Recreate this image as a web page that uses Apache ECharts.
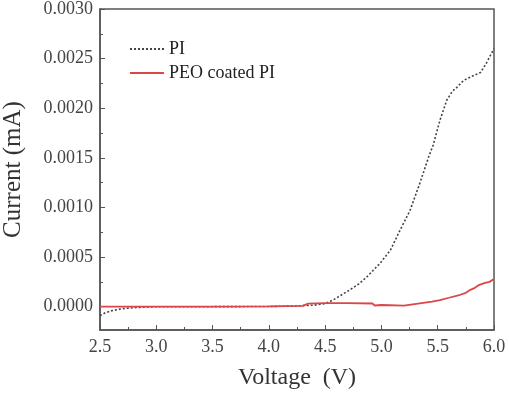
<!DOCTYPE html>
<html>
<head>
<meta charset="utf-8">
<script src="https://cdn.jsdelivr.net/npm/echarts@6/dist/echarts.min.js"></script>
<style>
    html, body { margin: 0; padding: 0; background: #fff; }
    #chart { width: 509px; height: 396px; }
</style>
</head>
<body>
<div id="chart"></div>
<script>
// PI 曲线 (电压 V, 电流 mA)
var piVoltage = [2.5, 2.55, 2.6, 2.7, 2.8, 2.9, 3.0, 3.5, 4.0, 4.2, 4.4, 4.5, 4.57, 4.72, 4.8, 4.87, 4.93, 4.99, 5.08, 5.165, 5.254, 5.34, 5.42, 5.46, 5.52, 5.58, 5.63, 5.67, 5.73, 5.8, 5.88, 5.93, 6.0];
var piCurrent = [-0.00009, -0.00006, -0.000042, -0.00002, -0.00001, -0.000005, 0, 0, 0.000002, 0.000006, 0.000015, 0.00003, 0.000067, 0.00017, 0.00023, 0.0003, 0.00037, 0.00044, 0.00057, 0.00077, 0.00097, 0.00124, 0.00151, 0.00163, 0.00188, 0.00208, 0.00217, 0.00221, 0.00228, 0.00232, 0.00236, 0.00245, 0.0026];

// PEO coated PI 曲线
var peoVoltage = [2.5, 3.0, 3.5, 4.0, 4.3, 4.35, 4.5, 4.7, 4.92, 4.94, 5.0, 5.2, 5.34, 5.45, 5.52, 5.6, 5.7, 5.75, 5.79, 5.83, 5.87, 5.92, 5.96, 6.0];
var peoCurrent = [0, 0, 0, 0.000003, 0.000008, 0.00003, 0.000035, 0.000035, 0.000032, 0.000012, 0.000017, 0.00001, 0.000034, 0.000052, 0.000067, 0.00009, 0.00012, 0.00014, 0.00017, 0.00019, 0.00022, 0.00024, 0.00025, 0.00028];

// 纵轴刻度
var yTicks = [0, 0.0005, 0.001, 0.0015, 0.002, 0.0025, 0.003];
var yMinorTicks = [0.00025, 0.00075, 0.00125, 0.00175, 0.00225, 0.00275];

function toPairs(xs, ys) {
    return xs.map(function (x, i) { return [x, ys[i]]; });
}

var font = "Liberation Serif";
var axisColor = "#555";
var yMin = -0.000235, yMax = 0.003;

var myChart = echarts.init(document.getElementById("chart"));
var option = {
    animation: false,
    textStyle: { fontFamily: font },
    grid: {
        left: 100, right: 15, top: 9, bottom: 66,
        outerBoundsMode: "none",
        show: true, borderColor: axisColor, borderWidth: 1.5
    },
    legend: {
        left: 124, top: 35, orient: "vertical",
        itemWidth: 34, itemHeight: 14, itemGap: 6,
        itemStyle: { opacity: 0 },
        textStyle: { fontFamily: font, fontSize: 18, color: "#222" },
        data: ["PI", "PEO coated PI"]
    },
    xAxis: {
        type: "value", min: 2.5, max: 6, interval: 0.5,
        name: "Voltage  (V)", nameLocation: "middle", nameGap: 36,
        nameTextStyle: { fontFamily: font, fontSize: 24, color: "#333" },
        axisLine: { onZero: false, lineStyle: { color: axisColor, width: 1.5 } },
        axisTick: { inside: true, length: 5, lineStyle: { color: axisColor } },
        minorTick: { show: true, splitNumber: 2, length: 3, lineStyle: { color: axisColor } },
        axisLabel: { fontFamily: font, fontSize: 18, color: "#444", margin: 8,
            formatter: function (v) { return v.toFixed(1); } },
        splitLine: { show: false }
    },
    yAxis: [{
        type: "value", min: yMin, max: yMax,
        name: "Current (mA)", nameLocation: "middle", nameGap: 74,
        nameTextStyle: { fontFamily: font, fontSize: 25, color: "#333" },
        axisLine: { show: true, lineStyle: { color: axisColor, width: 1.5 } },
        axisTick: { inside: true, length: 5, customValues: yTicks, lineStyle: { color: axisColor } },
        axisLabel: { fontFamily: font, fontSize: 18, color: "#444", margin: 7, customValues: yTicks,
            formatter: function (v) { return v.toFixed(4); } },
        splitLine: { show: false }
    }, {
        // 次刻度
        type: "value", min: yMin, max: yMax, position: "left",
        axisLine: { show: false },
        axisTick: { inside: true, length: 3, customValues: yMinorTicks, lineStyle: { color: axisColor } },
        axisLabel: { show: false },
        splitLine: { show: false }
    }],
    series: [{
        name: "PI", type: "line", symbol: "none",
        lineStyle: { color: "#444", width: 1.6, type: [2, 2] },
        itemStyle: { color: "#444" },
        data: toPairs(piVoltage, piCurrent)
    }, {
        name: "PEO coated PI", type: "line", symbol: "none",
        lineStyle: { color: "#d9474b", width: 1.8 },
        itemStyle: { color: "#d9474b" },
        data: toPairs(peoVoltage, peoCurrent)
    }]
};
myChart.setOption(option);
</script>
</body>
</html>
